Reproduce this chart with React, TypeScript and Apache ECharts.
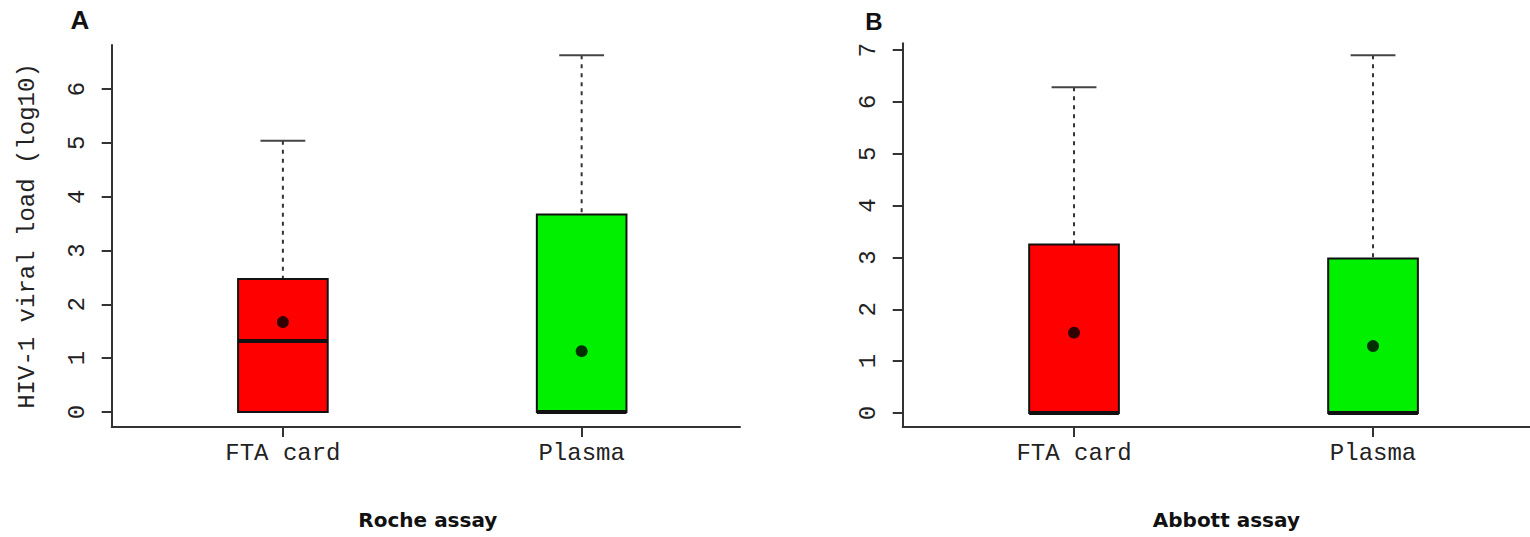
import React, { useEffect, useRef } from "react";
import * as echarts from "echarts";

// ---- data ----
const categories = ["FTA card", "Plasma"];
const positions = [1, 2];
const boxColors = ["#ff0000", "#00f000"];

const rocheMin = [0, 0];
const rocheQ1 = [0, 0];
const rocheMedian = [1.32, 0];
const rocheQ3 = [2.47, 3.67];
const rocheMax = [5.04, 6.63];
const rocheMean = [1.67, 1.13];

const abbottMin = [0, 0];
const abbottQ1 = [0, 0];
const abbottMedian = [0, 0];
const abbottQ3 = [3.25, 2.98];
const abbottMax = [6.28, 6.9];
const abbottMean = [1.55, 1.29];

const rocheTicks = [0, 1, 2, 3, 4, 5, 6];
const abbottTicks = [0, 1, 2, 3, 4, 5, 6, 7];

const yTitle = "HIV-1 viral load (log10)";
const panelTitles = ["Roche assay", "Abbott assay"];
const panelLetters = ["A", "B"];

const MONO = "'Liberation Mono', 'DejaVu Sans Mono', monospace";
const BOLD = "'DejaVu Sans', Verdana, sans-serif";
const AXIS_COLOR = "#333";

function boxRows(mn: number[], q1: number[], md: number[], q3: number[], mx: number[]) {
  return positions.map((p, i) => ({
    value: [p, mn[i], q1[i], md[i], q3[i], mx[i]],
    itemStyle: { color: boxColors[i] },
  }));
}

function renderBox(params: any, api: any) {
  const x = api.value(0);
  const lo = api.value(1);
  const q1 = api.value(2);
  const med = api.value(3);
  const q3 = api.value(4);
  const hi = api.value(5);
  const hw = 0.15;
  const color = api.visual("color");
  const tl = api.coord([x - hw, q3]);
  const br = api.coord([x + hw, q1]);
  const cTop = api.coord([x, hi]);
  const cQ3 = api.coord([x, q3]);
  const cQ1 = api.coord([x, q1]);
  const cLo = api.coord([x, lo]);
  const capL = api.coord([x - hw / 2, hi]);
  const capR = api.coord([x + hw / 2, hi]);
  const lcapL = api.coord([x - hw / 2, lo]);
  const lcapR = api.coord([x + hw / 2, lo]);
  const mL = api.coord([x - hw, med]);
  const mR = api.coord([x + hw, med]);
  const whisk = { stroke: "#333", lineWidth: 2, lineDash: [4, 5] };
  const cap = { stroke: "#444", lineWidth: 2 };
  return {
    type: "group",
    children: [
      { type: "line", shape: { x1: cTop[0], y1: cTop[1], x2: cQ3[0], y2: cQ3[1] }, style: whisk },
      { type: "line", shape: { x1: cQ1[0], y1: cQ1[1], x2: cLo[0], y2: cLo[1] }, style: whisk },
      { type: "line", shape: { x1: capL[0], y1: capL[1], x2: capR[0], y2: capR[1] }, style: cap },
      { type: "line", shape: { x1: lcapL[0], y1: lcapL[1], x2: lcapR[0], y2: lcapR[1] }, style: cap },
      {
        type: "rect",
        shape: { x: tl[0], y: tl[1], width: br[0] - tl[0], height: br[1] - tl[1] },
        style: { fill: color, stroke: "#111", lineWidth: 2 },
      },
      { type: "line", shape: { x1: mL[0], y1: mL[1], x2: mR[0], y2: mR[1] }, style: { stroke: "#111", lineWidth: 4 } },
    ],
  };
}

export default function App() {
  const ref = useRef<HTMLDivElement>(null);
  useEffect(() => {
    if (!ref.current) return;
    const chart = echarts.init(ref.current, null, { renderer: "svg" });
    const xAxisBase = (gi: number, max: number) => ({
      type: "value",
      gridIndex: gi,
      min: 0.427,
      max,
      name: panelTitles[gi],
      nameLocation: "middle",
      nameGap: 83,
      nameTextStyle: { fontFamily: BOLD, fontWeight: "bold", fontSize: 20, color: "#111", padding: gi === 1 ? [0, 0, 0, 20] : [0, 0, 0, 4] },
      axisLine: { show: true, onZero: false, lineStyle: { color: AXIS_COLOR, width: 2 } },
      axisTick: { show: true, length: 10, customValues: positions, lineStyle: { color: AXIS_COLOR, width: 2 } },
      axisLabel: {
        customValues: positions,
        formatter: (v: number) => categories[Math.round(v) - 1] ?? "",
        fontFamily: MONO,
        fontSize: 24,
        color: "#222",
        margin: 14,
      },
      splitLine: { show: false },
    });
    const yAxisBase = (gi: number, min: number, max: number, ticks: number[], withName: boolean) => ({
      type: "value",
      gridIndex: gi,
      min,
      max,
      name: withName ? yTitle : "",
      nameLocation: "middle",
      nameGap: 72,
      nameTextStyle: { fontFamily: MONO, fontSize: 24, color: "#222" },
      axisLine: { show: true, onZero: false, lineStyle: { color: AXIS_COLOR, width: 2 } },
      axisTick: { show: true, length: 10, customValues: ticks, lineStyle: { color: AXIS_COLOR, width: 2 } },
      axisLabel: { customValues: ticks, rotate: 90, fontFamily: MONO, fontSize: 24, color: "#222", margin: 22 },
      splitLine: { show: false },
    });
    chart.setOption({
      animation: false,
      backgroundColor: "#ffffff",
      grid: [
        { left: 111.7, top: 45, width: 628.3, bottom: 110, containLabel: false },
        { left: 902.7, top: 43.3, right: 0, bottom: 110, containLabel: false },
      ],
      xAxis: [xAxisBase(0, 2.53), xAxisBase(1, 2.525)],
      yAxis: [yAxisBase(0, -0.28, 6.82, rocheTicks, true), yAxisBase(1, -0.27, 7.13, abbottTicks, false)],
      graphic: [
        { type: "text", x: 80, y: 20, style: { text: panelLetters[0], fontFamily: "'Liberation Sans', Arial, sans-serif", fontWeight: "bold", fontSize: 26, fill: "#111", align: "center", verticalAlign: "middle" } },
        { type: "text", x: 874, y: 21, style: { text: panelLetters[1], fontFamily: "'Liberation Sans', Arial, sans-serif", fontWeight: "bold", fontSize: 24, fill: "#111", align: "center", verticalAlign: "middle" } },
      ],
      series: [
        {
          type: "custom",
          xAxisIndex: 0,
          yAxisIndex: 0,
          renderItem: renderBox,
          encode: { x: 0, y: [1, 2, 3, 4, 5] },
          data: boxRows(rocheMin, rocheQ1, rocheMedian, rocheQ3, rocheMax),
          z: 2,
        },
        {
          type: "custom",
          xAxisIndex: 1,
          yAxisIndex: 1,
          renderItem: renderBox,
          encode: { x: 0, y: [1, 2, 3, 4, 5] },
          data: boxRows(abbottMin, abbottQ1, abbottMedian, abbottQ3, abbottMax),
          z: 2,
        },
        {
          type: "scatter",
          xAxisIndex: 0,
          yAxisIndex: 0,
          symbolSize: 12,
          itemStyle: { color: "#000" },
          data: positions.map((p, i) => [p, rocheMean[i]]),
          z: 5,
        },
        {
          type: "scatter",
          xAxisIndex: 1,
          yAxisIndex: 1,
          symbolSize: 12,
          itemStyle: { color: "#000" },
          data: positions.map((p, i) => [p, abbottMean[i]]),
          z: 5,
        },
      ],
    });
    return () => chart.dispose();
  }, []);
  return <div ref={ref} style={{ position: "absolute", left: 0, top: 0, width: 1530, height: 537 }} />;
}
